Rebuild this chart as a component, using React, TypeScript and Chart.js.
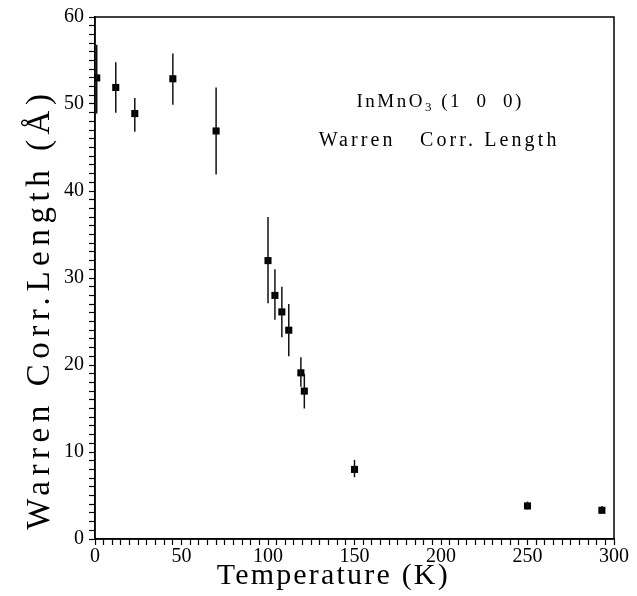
import React, { useEffect, useRef } from "react";
import { Chart, registerables } from "chart.js";

Chart.register(...registerables);

const temperatures = [1, 12, 23, 45, 70, 100, 104, 108, 112, 119, 121, 150, 250, 293];
const corrLength = [53.0, 51.9, 48.9, 52.9, 46.9, 32.0, 28.0, 26.1, 24.0, 19.1, 17.0, 8.0, 3.8, 3.3];
const errLow = [48.9, 49.0, 46.8, 49.9, 41.9, 27.1, 25.2, 23.2, 21.0, 17.5, 15.0, 7.1, 3.4, 2.9];
const errHigh = [56.8, 54.8, 50.7, 55.8, 51.9, 37.0, 31.0, 29.0, 27.0, 20.9, 19.0, 9.1, 4.3, 3.8];

const xTickLabels = [0, 50, 100, 150, 200, 250, 300];
const yTickLabels = [0, 10, 20, 30, 40, 50, 60];

const xTitle = "Temperature (K)";
const yTitle = "Warren Corr.Length (Å)";
const noteLine1 = ["InMnO", "3", " (1  0  0)"];
const noteLine2 = "Warren   Corr. Length";

const FONT = "'Liberation Serif', 'DejaVu Serif', serif";

function fitText(ctx: CanvasRenderingContext2D, text: string, target: number) {
  (ctx as any).letterSpacing = "0px";
  const natural = ctx.measureText(text).width;
  const sp = (target - natural) / Math.max(1, text.length - 1);
  (ctx as any).letterSpacing = `${sp}px`;
  return natural + sp * (text.length - 1);
}

const errorBarPlugin = {
  id: "errorBars",
  afterDatasetsDraw(chart: any) {
    const { ctx, scales } = chart;
    const xs = scales.x;
    const ys = scales.y;
    ctx.save();
    ctx.strokeStyle = "#111";
    ctx.lineWidth = 1.5;
    for (let i = 0; i < temperatures.length; i++) {
      const px = xs.getPixelForValue(temperatures[i]);
      ctx.beginPath();
      ctx.moveTo(px, ys.getPixelForValue(errLow[i]));
      ctx.lineTo(px, ys.getPixelForValue(errHigh[i]));
      ctx.stroke();
    }
    ctx.restore();
  },
};

const framePlugin = {
  id: "frameAndText",
  afterDraw(chart: any) {
    const { ctx, chartArea } = chart;
    const { left, right, top, bottom } = chartArea;
    const w = right - left;
    const h = bottom - top;
    ctx.save();
    ctx.strokeStyle = "#000";
    ctx.lineWidth = 1.5;
    ctx.strokeRect(left, top, right - left, bottom - top);
    ctx.fillStyle = "#000";

    // Axis titles
    ctx.textBaseline = "middle";
    ctx.textAlign = "left";
    ctx.font = `30px ${FONT}`;
    const xw = fitText(ctx, xTitle, w * 0.445);
    ctx.fillText(xTitle, left + w * 0.457 - xw / 2, 576);

    ctx.save();
    ctx.translate(40, top + h * 0.565);
    ctx.rotate(-Math.PI / 2);
    ctx.font = `33px ${FONT}`;
    const yw = fitText(ctx, yTitle, h * 0.835);
    ctx.fillText(yTitle, -yw / 2, 0);
    ctx.restore();

    // annotation line 1
    ctx.textBaseline = "alphabetic";
    const cx = left + w * 0.665;
    const y1 = top + h * 0.172;
    (ctx as any).letterSpacing = "2.5px";
    ctx.font = `19px ${FONT}`;
    const wa = ctx.measureText(noteLine1[0]).width;
    const wc = ctx.measureText(noteLine1[2]).width;
    ctx.font = `13px ${FONT}`;
    const wb = ctx.measureText(noteLine1[1]).width;
    const total = wa + wb + wc;
    let x = cx - total / 2;
    ctx.font = `19px ${FONT}`;
    ctx.fillText(noteLine1[0], x, y1);
    x += wa;
    ctx.font = `13px ${FONT}`;
    ctx.fillText(noteLine1[1], x, y1 + 4);
    x += wb;
    ctx.font = `19px ${FONT}`;
    ctx.fillText(noteLine1[2], x, y1);

    // annotation line 2
    ctx.font = `20px ${FONT}`;
    ctx.textBaseline = "middle";
    const w2 = fitText(ctx, noteLine2, w * 0.458);
    ctx.fillText(noteLine2, left + w * 0.66 - w2 / 2, top + h * 0.238);
    ctx.restore();
  },
};

export default function App() {
  const canvasRef = useRef<HTMLCanvasElement | null>(null);

  useEffect(() => {
    if (!canvasRef.current) return;
    const chart = new Chart(canvasRef.current, {
      type: "scatter",
      data: {
        datasets: [
          {
            label: "Warren Corr. Length",
            data: temperatures.map((t, i) => ({ x: t, y: corrLength[i] })),
            pointStyle: "rect",
            pointRadius: 5,
            pointHoverRadius: 5,
            backgroundColor: "#000",
            borderColor: "#000",
            borderWidth: 0,
          },
        ],
      },
      options: {
        responsive: false,
        animation: false,
        layout: { padding: { left: 0, top: 17, right: 23, bottom: 0 } },
        plugins: {
          legend: { display: false },
          tooltip: { enabled: false },
        },
        scales: {
          x: {
            type: "linear",
            min: 0,
            max: 300,
            afterFit: (s: any) => {
              s.height = 57;
            },
            afterBuildTicks: (s: any) => {
              const t = [];
              for (let v = 0; v <= 300; v += 5) t.push({ value: v });
              s.ticks = t;
            },
            ticks: {
              autoSkip: false,
              maxRotation: 0,
              padding: 0,
              color: "#000",
              font: { family: FONT, size: 20 },
              callback: (v: any) => (xTickLabels.includes(Number(v)) ? String(v) : ""),
            },
            grid: {
              drawOnChartArea: false,
              tickLength: 6,
              tickColor: "#000",
              tickWidth: 1.2,
            },
            border: { color: "#000", width: 1.5 },
            title: { display: false },
          },
          y: {
            type: "linear",
            min: 0,
            max: 60,
            afterFit: (s: any) => {
              s.width = 95;
            },
            afterBuildTicks: (s: any) => {
              const t = [];
              for (let v = 0; v <= 60; v += 1) t.push({ value: v });
              s.ticks = t;
            },
            ticks: {
              autoSkip: false,
              padding: 5,
              color: "#000",
              font: { family: FONT, size: 20 },
              callback: (v: any) => (yTickLabels.includes(Number(v)) ? String(v) : ""),
            },
            grid: {
              drawOnChartArea: false,
              tickLength: 6,
              tickColor: "#000",
              tickWidth: 1.2,
            },
            border: { color: "#000", width: 1.5 },
            title: { display: false },
          },
        },
      },
      plugins: [errorBarPlugin, framePlugin],
    });
    return () => chart.destroy();
  }, []);

  return (
    <div style={{ position: "absolute", left: 0, top: 0, width: 637, height: 596, background: "#fff" }}>
      <canvas ref={canvasRef} width={637} height={596} style={{ display: "block" }} />
    </div>
  );
}
